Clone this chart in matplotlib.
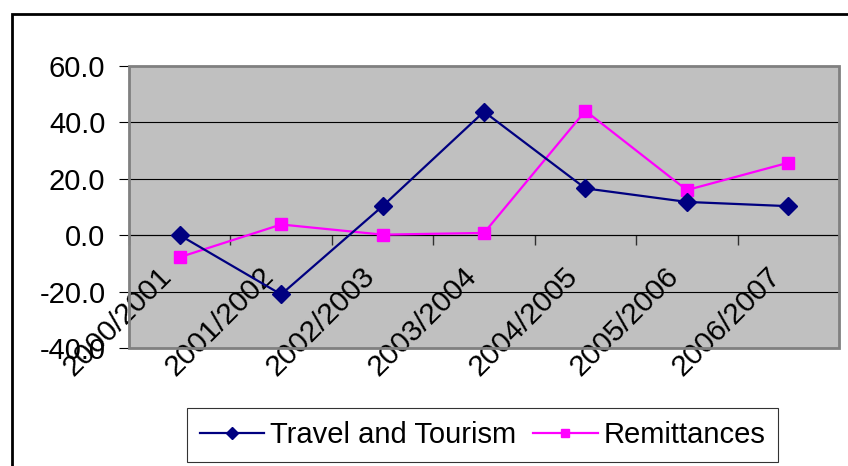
import numpy as np
import matplotlib
matplotlib.use('Agg')
import matplotlib.pyplot as plt
from matplotlib.patches import Rectangle

plt.rcParams['font.family'] = 'Liberation Sans'
plt.rcParams['axes.unicode_minus'] = False

# --- data --- #

years = ['2000/2001', '2001/2002', '2002/2003', '2003/2004',
         '2004/2005', '2005/2006', '2006/2007']
travel = [0.0, -21.0, 10.3, 43.8, 16.6, 11.8, 10.3]
remittances = [-7.8, 3.8, 0.2, 0.8, 44.1, 16.0, 25.7]

# --- plotting --- #

fig = plt.figure(figsize=(8.48, 4.66), dpi=100)
ax = fig.add_axes([129 / 848, 1 - 348 / 466, 710 / 848, 282 / 466])

x = np.arange(len(years))
p0, = ax.plot(x, travel, color='#000080', lw=1.6, marker='D', ms=9,
              label='Travel and Tourism', zorder=4)
p1, = ax.plot(x, remittances, color='#FF00FF', lw=1.6, marker='s', ms=8,
              label='Remittances', zorder=3)

ax.set_facecolor('#C0C0C0')
ax.set_xlim(-0.5, len(years) - 0.5)
ax.set_ylim(-40, 60)
ax.set_yticks(np.arange(-40, 61, 20))
ax.set_yticklabels(['%.1f' % v for v in np.arange(-40, 61, 20)], fontsize=21)
ax.tick_params(axis='y', length=7, width=0.8, color='black', pad=10)

# gridlines
for v in np.arange(-20, 41, 20):
    ax.axhline(v, color='black', lw=0.8, zorder=1)

# category axis crosses at zero
for s in ['top', 'right', 'left']:
    ax.spines[s].set_visible(False)
ax.spines['bottom'].set_position(('data', 0))
ax.spines['bottom'].set_color('black')
ax.spines['bottom'].set_linewidth(0.8)
ax.set_xticks(np.arange(-0.5, len(years), 1.0))
ax.set_xticklabels([])
ax.tick_params(axis='x', length=7, width=1, color='#303030')

for i, lab in enumerate(years):
    ax.annotate(lab, xy=(i, 0), xycoords='data',
                xytext=(-12, -37), textcoords='offset pixels',
                rotation=45, rotation_mode='anchor',
                ha='right', va='center', fontsize=21.5, clip_on=False)

# plot area border
ax.add_patch(Rectangle((0, 0), 1, 1, transform=ax.transAxes, fill=False,
                       edgecolor='#808080', lw=2, clip_on=False, zorder=5))

# chart frame
fig.patches.append(Rectangle((12 / 848, -0.1), 1.0, 1.1 - 14 / 466,
                             transform=fig.transFigure, fill=False,
                             edgecolor='black', lw=2))

leg = fig.legend(handles=[p0, p1], loc='center', ncol=2,
                 bbox_to_anchor=(482.5 / 848, 1 - 435 / 466),
                 fontsize=21, frameon=True, fancybox=False,
                 edgecolor='black', handlelength=2.2, handletextpad=0.2,
                 columnspacing=0.6, borderpad=0.45, markerscale=0.65)
leg.get_frame().set_linewidth(0.8)

plt.savefig('out.png', dpi=100)
